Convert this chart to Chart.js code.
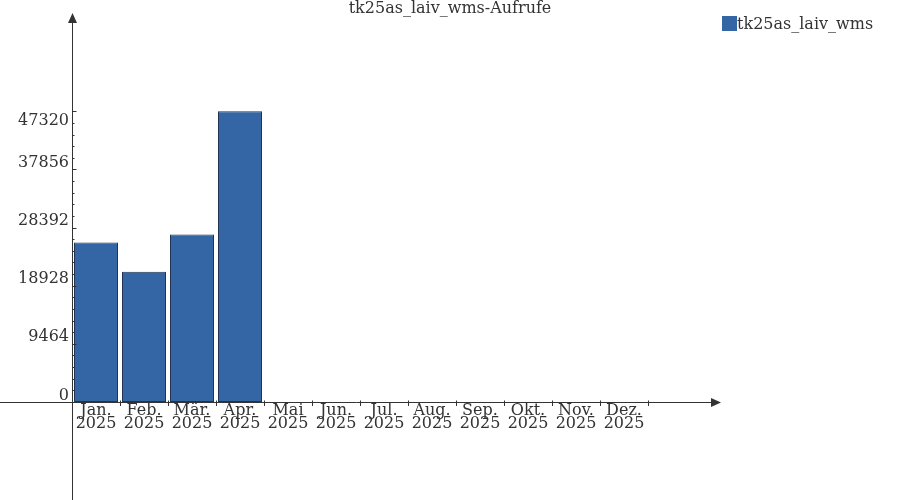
<!DOCTYPE html>
<html><head><meta charset="utf-8">
<script src="https://cdn.jsdelivr.net/npm/chart.js@4"></script>
<style>html,body{margin:0;padding:0;background:#fff}canvas{display:block}</style>
</head><body>
<canvas id="c" width="900" height="500"></canvas>
<script>
// ---- data ----
const months = ['Jan.', 'Feb.', 'Mär.', 'Apr.', 'Mai', 'Jun.', 'Jul.', 'Aug.', 'Sep.', 'Okt.', 'Nov.', 'Dez.'];
const year = '2025';
const seriesName = 'tk25as_laiv_wms';
const calls = [25950, 21220, 27250, 47320, 0, 0, 0, 0, 0, 0, 0, 0];
const yTicks = [0, 9464, 18928, 28392, 37856, 47320];
const yMax = 61860;
const titleText = 'tk25as_laiv_wms-Aufrufe';

const FONT = 'DejaVu Serif';
const TEXT = '#333333';
const AXIS = '#333333';
const BAR_FILL = '#3465a4';
const BAR_EDGE = '#1f3352';

const deco = {
  id: 'deco',
  afterDraw(chart) {
    const ctx = chart.ctx;
    const xs = chart.scales.x, ys = chart.scales.y;
    const ax = Math.round(chart.chartArea.left) + 0.5;
    const ay = Math.round(ys.getPixelForValue(0)) + 0.5;
    ctx.save();
    // title
    ctx.font = '16px "' + FONT + '"';
    ctx.fillStyle = TEXT; ctx.textAlign = 'center'; ctx.textBaseline = 'alphabetic';
    ctx.fillText(titleText, 450, 13);
    ctx.strokeStyle = AXIS; ctx.fillStyle = AXIS; ctx.lineWidth = 1;
    // y axis line + arrow
    ctx.beginPath(); ctx.moveTo(ax, 22); ctx.lineTo(ax, 500); ctx.stroke();
    ctx.beginPath(); ctx.moveTo(ax, 13); ctx.lineTo(ax - 4.5, 23); ctx.lineTo(ax + 4.5, 23); ctx.closePath(); ctx.fill();
    // x axis line + arrow
    ctx.beginPath(); ctx.moveTo(0, ay); ctx.lineTo(713, ay); ctx.stroke();
    ctx.beginPath(); ctx.moveTo(721, ay); ctx.lineTo(711, ay - 4.5); ctx.lineTo(711, ay + 4.5); ctx.closePath(); ctx.fill();
    // x ticks at category boundaries
    const n = months.length;
    const half = (xs.getPixelForValue(1) - xs.getPixelForValue(0)) / 2;
    ctx.beginPath();
    for (let i = 0; i <= n; i++) {
      const px = Math.round(xs.getPixelForValue(Math.min(i, n - 1)) + (i === n ? half : -half)) + 0.5;
      ctx.moveTo(px, ay - 2); ctx.lineTo(px, ay + 3.5);
    }
    ctx.stroke();
    // y major & minor ticks
    ctx.beginPath();
    for (let k = 0; k < yTicks.length; k++) {
      const py = Math.round(ys.getPixelForValue(yTicks[k])) + 0.5;
      ctx.moveTo(ax, py); ctx.lineTo(ax + 4, py);
      if (k < yTicks.length - 1) {
        const step = (yTicks[k + 1] - yTicks[k]) / 5;
        for (let m = 1; m < 5; m++) {
          const qy = Math.round(ys.getPixelForValue(yTicks[k] + m * step)) + 0.5;
          ctx.moveTo(ax, qy); ctx.lineTo(ax + 2, qy);
        }
      }
    }
    ctx.stroke();
    // y tick labels
    ctx.fillStyle = TEXT; ctx.textAlign = 'right'; ctx.textBaseline = 'alphabetic';
    for (let k = 0; k < yTicks.length; k++) {
      const py = ys.getPixelForValue(yTicks[k]);
      const off = (k === yTicks.length - 1) ? 13.5 : -2.4;
      ctx.fillText(String(yTicks[k]), 69, py + off);
    }
    // legend
    const ds = chart.data.datasets[0];
    ctx.fillStyle = ds.backgroundColor;
    ctx.fillRect(722, 16, 15, 15);
    ctx.fillStyle = TEXT; ctx.textAlign = 'left';
    ctx.fillText(ds.label, 737, 28.5);
    ctx.restore();
  }
};

new Chart(document.getElementById('c'), {
  type: 'bar',
  data: {
    labels: months.map(m => [m, year]),
    datasets: [{
      label: seriesName,
      data: calls,
      backgroundColor: BAR_FILL,
      borderColor: BAR_EDGE,
      borderWidth: 1,
      borderSkipped: false,
      inflateAmount: 0,
      barPercentage: 44 / 48,
      categoryPercentage: 1.0
    }]
  },
  options: {
    responsive: false,
    animation: false,
    devicePixelRatio: 1,
    layout: { padding: { left: 0, right: 252, top: 22, bottom: 0 } },
    plugins: {
      legend: { display: false },
      tooltip: { enabled: false },
      title: { display: false }
    },
    scales: {
      x: {
        type: 'category', offset: true,
        grid: { display: false, drawTicks: false },
        border: { display: false },
        ticks: {
          color: TEXT, padding: 2.5, autoSkip: false, maxRotation: 0, minRotation: 0,
          font: { family: FONT, size: 16, lineHeight: 0.8125 }
        },
        afterFit: s => { s.height = 98; }
      },
      y: {
        type: 'linear', min: 0, max: yMax,
        grid: { display: false, drawTicks: false },
        border: { display: false },
        ticks: { display: false },
        afterBuildTicks: s => { s.ticks = yTicks.map(v => ({ value: v })); },
        afterFit: s => { s.width = 72; }
      }
    }
  },
  plugins: [deco]
});
</script>
</body></html>
